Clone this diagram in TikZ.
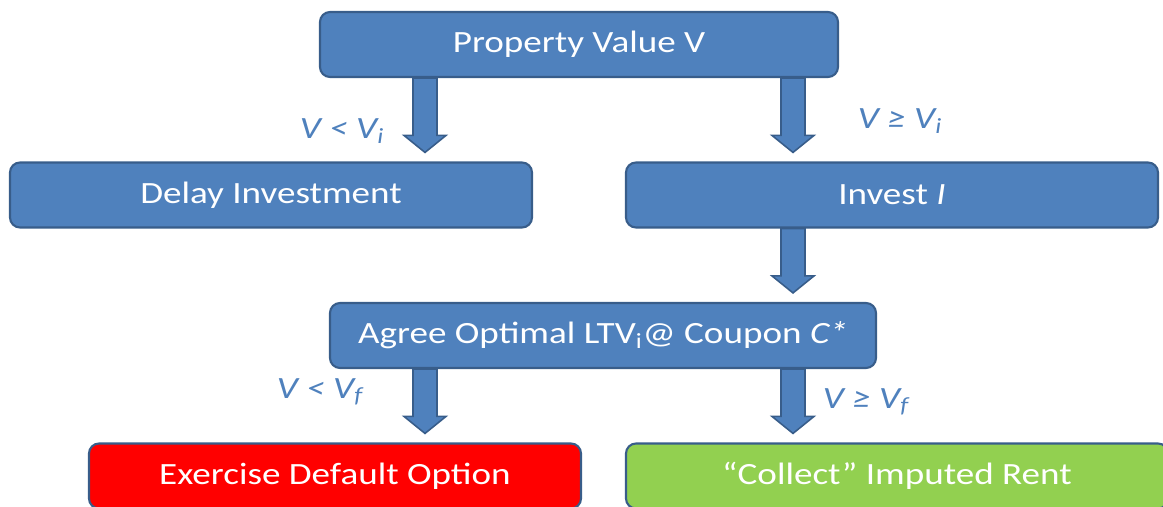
\documentclass[tikz,border=0pt]{standalone}
\usepackage{fontspec}
\setmainfont{Carlito}[FakeStretch=1.2]
\usetikzlibrary{calc}

\definecolor{boxblue}{HTML}{4F81BD}
\definecolor{edgeblue}{HTML}{385D8A}
\definecolor{rentgreen}{HTML}{92D050}

\tikzset{
  stagebox/.style={draw=edgeblue, line width=1.2pt, fill=boxblue, rounded corners=0.2cm,
                   text=white, minimum height=1.3cm, font=\fontsize{17.6}{20}\selectfont},
  condlabel/.style={text=boxblue, font=\fontsize{17.6}{20}\selectfont\itshape},
  % fat downward arrow from one stage to the next
  blockarrow/.style={draw=edgeblue, line width=0.9pt, fill=boxblue,
    to path={let \p1=(\tikztostart), \p2=(\tikztotarget) in
      (\x1-0.24cm,\y1) -- (\x1-0.24cm,\y2+0.52cm) -- (\x1-0.42cm,\y2+0.52cm)
      -- (\x1,\y2+0.18cm) -- (\x1+0.42cm,\y2+0.52cm) -- (\x1+0.24cm,\y2+0.52cm)
      -- (\x1+0.24cm,\y1) -- cycle}}
}

\begin{document}
\begin{tikzpicture}
  \useasboundingbox (0,0) rectangle (23.26,10.14);

  \node[stagebox, minimum width=10.36cm] (prop)     at (11.58,9.25) {Property Value V};
  \node[stagebox, minimum width=10.44cm] (delay)    at ( 5.42,6.24) {Delay Investment};
  \node[stagebox, minimum width=10.64cm] (invest)   at (17.84,6.24) {Invest \textit{I}};
  \node[stagebox, minimum width=10.92cm] (agree)    at (12.06,3.43) {Agree Optimal LTV\textsubscript{i}@ Coupon \textit{C*}};
  \node[stagebox, minimum width=9.84cm, fill=red]        (exercise) at ( 6.70,0.62) {Exercise Default Option};
  \node[stagebox, minimum width=10.84cm, fill=rentgreen] (collect)  at (17.94,0.62) {“Collect” Imputed Rent};

  \coordinate (lx) at ( 8.50,0);
  \coordinate (rx) at (15.86,0);

  \foreach \a/\b/\c in {prop/delay/lx, prop/invest/rx, invest/agree/rx, agree/exercise/lx, agree/collect/rx}
    \draw[blockarrow] (\a.south -| \c) to (\b.north -| \c);

  \node[condlabel] (lowi)  at ( 6.84,7.52) {V < V\textsubscript{i}};
  \node[condlabel] (highi) at (18.00,7.72) {V ≥ V\textsubscript{i}};
  \node[condlabel] (lowf)  at ( 6.40,2.30) {V < V\textsubscript{f}};
  \node[condlabel] (highf) at (17.32,2.10) {V ≥ V\textsubscript{f}};
\end{tikzpicture}
\end{document}
